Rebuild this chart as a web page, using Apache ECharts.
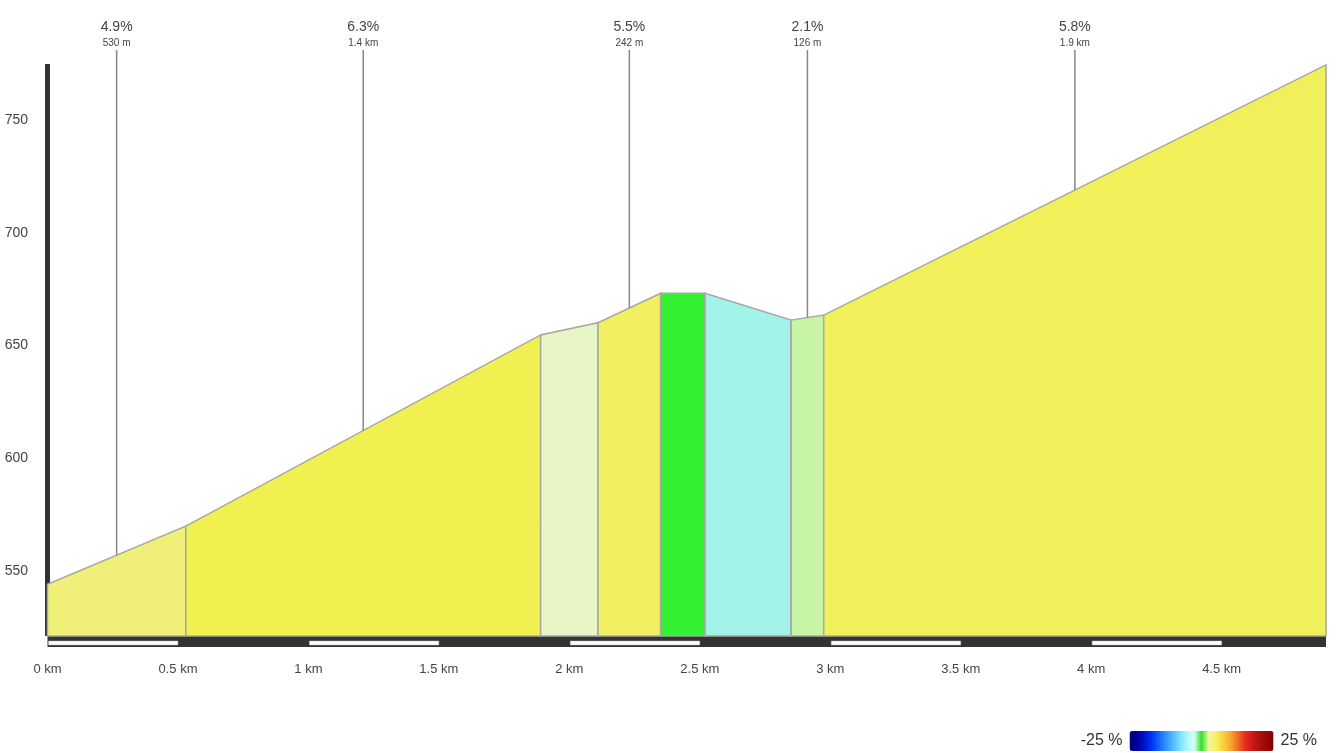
<!DOCTYPE html>
<html>
<head>
<meta charset="utf-8">
<title>profile</title>
<script src="https://cdn.jsdelivr.net/npm/echarts@6/dist/echarts.min.js"></script>
<style>
  html, body { margin: 0; padding: 0; background: #fff; }
  #chart { width: 1340px; height: 753px; }
</style>
</head>
<body>
<div id="chart"></div>
<script>
// segment break points (km) and elevation (m) at each break
var breakKm = [0, 0.53, 1.89, 2.11, 2.35, 2.52, 2.85, 2.975, 4.9]
var breakElev = [544, 569.8, 654.7, 660.1, 673.2, 673.2, 661.3, 663.5, 774.6]
// one fill per segment
var segColors = ['#f0f078', '#f0f050', '#e8f5c5', '#f0f060', '#33f033', '#a2f3ea', '#c8f5a5', '#f0f05a']
// callout labels (empty = none)
var gradeLabels = ['4.9%', '6.3%', '', '5.5%', '', '', '2.1%', '5.8%']
var lengthLabels = ['530 m', '1.4 km', '', '242 m', '', '', '126 m', '1.9 km']
// x ticks every 0.5 km, scale bar stripes on every other one
var kmTicks = [0, 0.5, 1, 1.5, 2, 2.5, 3, 3.5, 4, 4.5]
var yMin = 521
var yMax = 775
// legend range
var gradeMin = -25
var gradeMax = 25

var font = '"Liberation Sans", Arial, sans-serif'

var segData = []
for (var i = 0; i < breakKm.length - 1; i++) {
  segData.push([breakKm[i], breakKm[i + 1], breakElev[i], breakElev[i + 1], i])
}
var stripeData = []
for (var k = 0; k < kmTicks.length - 1; k += 2) {
  stripeData.push([kmTicks[k], kmTicks[k + 1]])
}

var myChart = echarts.init(document.getElementById('chart'))

function renderSegment(params, api) {
  var x0 = api.value(0), x1 = api.value(1)
  var e0 = api.value(2), e1 = api.value(3)
  var idx = api.value(4)
  var p0 = api.coord([x0, yMin])
  var p1 = api.coord([x0, e0])
  var p2 = api.coord([x1, e1])
  var p3 = api.coord([x1, yMin])
  var children = [{
    type: 'polygon',
    shape: { points: [p0, p1, p2, p3] },
    style: { fill: segColors[idx], stroke: '#a8a8a0', lineWidth: 1.5 }
  }]
  if (gradeLabels[idx]) {
    var mid = api.coord([(x0 + x1) / 2, (e0 + e1) / 2])
    children.push({
      type: 'line',
      shape: { x1: mid[0], y1: 50, x2: mid[0], y2: mid[1] },
      style: { stroke: '#888', lineWidth: 1.5 }
    })
    children.push({
      type: 'text',
      style: { x: mid[0], y: 27, text: gradeLabels[idx], fill: '#444', font: '14px ' + font, align: 'center', verticalAlign: 'middle' }
    })
    children.push({
      type: 'text',
      style: { x: mid[0], y: 43, text: lengthLabels[idx], fill: '#444', font: '10px ' + font, align: 'center', verticalAlign: 'middle' }
    })
  }
  return { type: 'group', children: children }
}

function renderStripe(params, api) {
  var a = api.coord([api.value(0), yMin])
  var b = api.coord([api.value(1), yMin])
  return {
    type: 'rect',
    shape: { x: a[0] + 1, y: a[1] + 5, width: b[0] - a[0] - 1, height: 4 },
    style: { fill: '#fff', stroke: '#bbb', lineWidth: 0.5 }
  }
}

var option = {
  animation: false,
  textStyle: { fontFamily: font },
  grid: {
    left: 47.5,
    right: 14,
    top: 64,
    bottom: 117
  },
  xAxis: {
    type: 'value',
    min: 0,
    max: 4.9,
    interval: 0.5,
    offset: 5.5,
    axisLine: { show: true, lineStyle: { color: '#333', width: 11, cap: 'butt' } },
    axisTick: { show: false },
    splitLine: { show: false },
    axisLabel: {
      margin: 21,
      color: '#444',
      fontSize: 13,
      showMaxLabel: false,
      formatter: function(v) { return v + ' km' }
    }
  },
  yAxis: {
    type: 'value',
    min: yMin,
    max: yMax,
    offset: 2.5,
    axisLine: { show: true, lineStyle: { color: '#333', width: 5, cap: 'butt' } },
    axisTick: { show: false },
    splitLine: { show: false },
    axisLabel: {
      margin: 17,
      color: '#444',
      fontSize: 14,
      showMinLabel: false,
      showMaxLabel: false,
      formatter: function(v) { return v % 50 === 0 ? String(v) : '' }
    }
  },
  visualMap: {
    type: 'continuous',
    min: gradeMin,
    max: gradeMax,
    orient: 'horizontal',
    seriesIndex: 2,
    calculable: false,
    hoverLink: false,
    right: 8,
    bottom: -13,
    itemWidth: 20,
    itemHeight: 144,
    textGap: 7,
    text: [gradeMax + ' %', gradeMin + ' %'],
    textStyle: { color: '#333', fontSize: 16 },
    inRange: {
      color: ['#00007a', '#000099', '#0010c8', '#0030f0', '#1060ff', '#3090ff', '#50b8ff',
        '#78e0ff', '#a8f8ff', '#d8fff0', '#30e030', '#f0f8a0', '#f8f060', '#f8d040',
        '#f8a830', '#f07020', '#e83020', '#d01818', '#b01010', '#980808', '#800000']
    }
  },
  series: [
    {
      name: 'profile',
      type: 'custom',
      renderItem: renderSegment,
      data: segData,
      encode: { x: [0, 1], y: [2, 3] },
      z: 3
    },
    {
      name: 'scale',
      type: 'custom',
      renderItem: renderStripe,
      data: stripeData,
      encode: { x: [0, 1] },
      z: 5
    },
    {
      name: 'legend',
      type: 'line',
      data: []
    }
  ]
}
myChart.setOption(option)
window.onresize = myChart.resize
</script>
</body>
</html>
